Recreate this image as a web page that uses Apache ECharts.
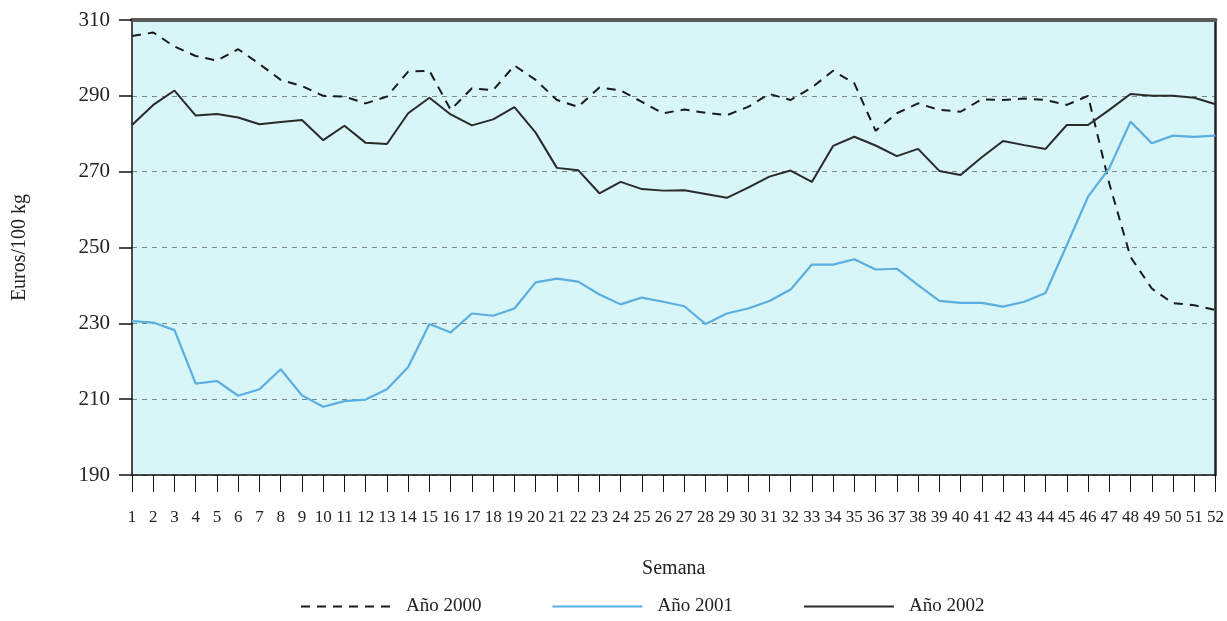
<!DOCTYPE html>
<html>
<head>
<meta charset="utf-8">
<script src="https://cdn.jsdelivr.net/npm/echarts@6/dist/echarts.min.js"></script>
<style>
html,body{margin:0;padding:0;background:#ffffff;}
#chart{width:1227px;height:621px;}
</style>
</head>
<body>
<div id="chart"></div>
<script>
const weeks = ["1","2","3","4","5","6","7","8","9","10","11","12","13","14","15","16","17","18","19","20","21","22","23","24","25","26","27","28","29","30","31","32","33","34","35","36","37","38","39","40","41","42","43","44","45","46","47","48","49","50","51","52"];

const y2000 = [305.8, 306.7, 303.0, 300.5, 299.3, 302.3, 298.4, 294.2, 292.6, 290.0, 289.8, 288.0, 289.8, 296.4, 296.6, 286.3, 292.0, 291.5, 298.0, 294.2, 288.9, 287.1, 292.2, 291.4, 288.4, 285.4, 286.4, 285.5, 284.9, 287.1, 290.5, 288.9, 292.2, 296.6, 293.3, 280.8, 285.4, 288.0, 286.3, 285.8, 289.1, 288.9, 289.3, 288.9, 287.6, 290.0, 266.9, 247.5, 239.2, 235.3, 234.8, 233.5];

const y2001 = [230.6, 230.2, 228.2, 214.1, 214.8, 210.9, 212.6, 217.9, 211.0, 208.0, 209.5, 209.9, 212.6, 218.5, 229.8, 227.6, 232.6, 232.0, 233.9, 240.8, 241.8, 241.0, 237.6, 235.0, 236.8, 235.7, 234.5, 229.8, 232.6, 233.9, 235.9, 238.9, 245.5, 245.5, 246.9, 244.2, 244.4, 240.1, 235.9, 235.4, 235.4, 234.4, 235.7, 238.0, 250.6, 263.4, 270.9, 283.2, 277.5, 279.5, 279.2, 279.5];

const y2002 = [282.3, 287.6, 291.4, 284.8, 285.2, 284.3, 282.5, 283.1, 283.6, 278.3, 282.1, 277.6, 277.3, 285.4, 289.5, 285.1, 282.2, 283.8, 287.0, 280.3, 271.0, 270.4, 264.3, 267.3, 265.4, 265.0, 265.1, 264.1, 263.1, 265.8, 268.7, 270.3, 267.3, 276.8, 279.2, 276.9, 274.1, 276.0, 270.2, 269.1, 273.8, 278.1, 277.0, 276.0, 282.3, 282.3, 286.3, 290.5, 290.0, 290.0, 289.5, 287.8];

const seriesNames = ["Año 2000", "Año 2001", "Año 2002"];
const yAxisName = "Euros/100 kg";
const xAxisName = "Semana";

const FONT = "Liberation Serif";
const chart = echarts.init(document.getElementById('chart'), null, {renderer: 'canvas'});

chart.setOption({
  animation: false,
  backgroundColor: '#ffffff',
  textStyle: {fontFamily: FONT, color: '#222'},
  grid: {
    left: 132, right: 10, top: 20, bottom: 146,
    show: true, backgroundColor: '#d8f5f7', borderWidth: 0
  },
  legend: {
    left: 295, top: 592,
    itemWidth: 90, itemHeight: 10, itemGap: 70,
    itemStyle: {opacity: 0},
    textStyle: {fontFamily: FONT, fontSize: 19, color: '#222', padding: [0,0,0,10]},
    data: seriesNames
  },
  xAxis: [{
    type: 'category',
    data: weeks,
    boundaryGap: false,
    name: xAxisName,
    nameLocation: 'middle',
    nameGap: 84,
    nameTextStyle: {fontFamily: FONT, fontSize: 20, color: '#222'},
    axisLine: {lineStyle: {color: '#111', width: 1.5}},
    axisTick: {show: true, length: 17, interval: 0, lineStyle: {color: '#111', width: 1}},
    axisLabel: {interval: 0, margin: 34, fontFamily: FONT, fontSize: 17, color: '#222'},
    splitLine: {show: false}
  }, {
    type: 'category',
    data: weeks,
    boundaryGap: false,
    position: 'top',
    axisLine: {lineStyle: {color: '#5a5a5a', width: 4}},
    axisTick: {show: false},
    axisLabel: {show: false},
    splitLine: {show: false}
  }],
  yAxis: [{
    type: 'value',
    min: 190, max: 310, interval: 20,
    name: yAxisName,
    nameLocation: 'middle',
    nameRotate: 90,
    nameGap: 102,
    nameTextStyle: {fontFamily: FONT, fontSize: 20, color: '#222'},
    axisLine: {show: true, lineStyle: {color: '#111', width: 1.5}},
    axisTick: {show: true, length: 13, lineStyle: {color: '#111', width: 1.5}},
    axisLabel: {margin: 22, fontFamily: FONT, fontSize: 21, color: '#222'},
    splitLine: {show: true, lineStyle: {color: '#7a8a8c', type: [5, 5], width: 1}}
  }, {
    type: 'value',
    min: 190, max: 310, interval: 20,
    position: 'right',
    axisLine: {show: true, lineStyle: {color: '#222', width: 2.5}},
    axisTick: {show: false},
    axisLabel: {show: false},
    splitLine: {show: false}
  }],
  series: [{
    name: seriesNames[0],
    type: 'line',
    data: y2000,
    symbol: 'none',
    lineStyle: {color: '#1a1a1a', width: 2, type: [9, 7]},
    itemStyle: {color: '#1a1a1a'}
  }, {
    name: seriesNames[1],
    type: 'line',
    data: y2001,
    symbol: 'none',
    lineStyle: {color: '#5aaee0', width: 2.2},
    itemStyle: {color: '#5aaee0'}
  }, {
    name: seriesNames[2],
    type: 'line',
    data: y2002,
    symbol: 'none',
    lineStyle: {color: '#2a2a2a', width: 2},
    itemStyle: {color: '#2a2a2a'}
  }]
});
</script>
</body>
</html>
